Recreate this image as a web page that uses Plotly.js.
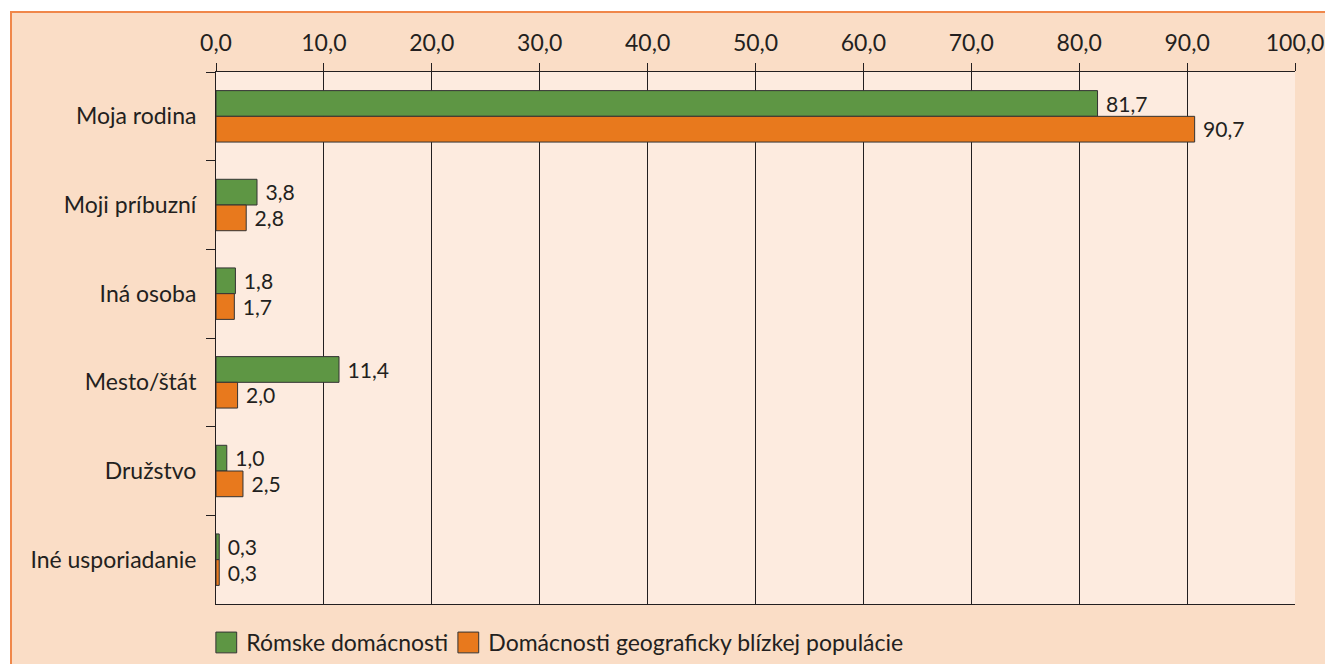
<!DOCTYPE html>
<html>
<head>
<meta charset="utf-8">
<script src="https://cdn.plot.ly/plotly-3.0.1.min.js"></script>
<style>
  html, body { margin: 0; padding: 0; background: #ffffff; }
  #chart { position: absolute; left: 10px; top: 11px; width: 1313px; height: 651px;
           border-left: 2px solid #F0874A; border-top: 2px solid #F0874A; background: #FADDC6; }
</style>
</head>
<body>
<div id="chart"></div>
<script>
const categories = ["Moja rodina", "Moji príbuzní", "Iná osoba", "Mesto/štát", "Družstvo", "Iné usporiadanie"];
const romaValues = [81.7, 3.8, 1.8, 11.4, 1.0, 0.3];
const nearbyValues = [90.7, 2.8, 1.7, 2.0, 2.5, 0.3];
const seriesNames = ["Rómske domácnosti", "Domácnosti geograficky blízkej populácie"];
const seriesColors = ["#5E9644", "#E8791D"];
const xTickValues = [0, 10, 20, 30, 40, 50, 60, 70, 80, 90, 100];

const FONT = "Lato, 'Open Sans', sans-serif";
const FS = 23;
const TXT = "#231F20";

function barTrace(i, values) {
  return {
    type: "bar", orientation: "h", name: seriesNames[i], showlegend: false,
    y: categories, x: values,
    marker: { color: seriesColors[i], line: { color: "#333333", width: 1 } },
    texttemplate: "\u00a0%{x:.1f}", textposition: "outside", cliponaxis: false,
    textfont: { family: FONT, size: FS, color: TXT }
  };
}
function legendTrace(i, legendId) {
  return {
    type: "scatter", mode: "markers", name: seriesNames[i], legend: legendId,
    x: [null], y: [null],
    marker: { symbol: "square", size: 16, color: seriesColors[i], line: { color: "#333333", width: 1 } }
  };
}

const traces = [
  barTrace(0, romaValues), barTrace(1, nearbyValues),
  legendTrace(0, "legend"), legendTrace(1, "legend2")
];

function legendBox(x) {
  return {
    orientation: "h", x: x, xanchor: "left", y: -0.032, yanchor: "top",
    bgcolor: "rgba(0,0,0,0)", font: { family: FONT, size: FS, color: TXT },
    itemwidth: 30
  };
}

const layout = {
  width: 1313, height: 651,
  margin: { l: 204, r: 30, t: 59, b: 60, autoexpand: false },
  paper_bgcolor: "#FADDC6",
  plot_bgcolor: "#FDEBDF",
  separators: ",.",
  barmode: "group",
  bargap: 0.42,
  bargroupgap: 0,
  font: { family: FONT, size: FS, color: TXT },
  showlegend: true,
  legend: legendBox(-0.009),
  legend2: legendBox(0.2153),
  xaxis: {
    side: "top", range: [0, 100], tickvals: xTickValues, tickformat: ".1f",
    showgrid: true, gridcolor: "#231F20", gridwidth: 1,
    showline: true, linecolor: "#231F20", linewidth: 1, mirror: true,
    ticks: "outside", ticklen: 8, tickcolor: "#231F20", tickwidth: 1,
    zeroline: false, fixedrange: true, ticklabelstandoff: 3, automargin: false,
    tickfont: { family: FONT, size: FS, color: TXT }
  },
  yaxis: {
    type: "category", autorange: "reversed",
    showline: true, linecolor: "#231F20", linewidth: 1,
    ticks: "outside", tickson: "boundaries", ticklen: 9, tickcolor: "#231F20", tickwidth: 1,
    showgrid: false, zeroline: false, fixedrange: true, ticklabelstandoff: 14, automargin: false,
    tickfont: { family: FONT, size: FS, color: TXT }
  }
};

Plotly.newPlot("chart", traces, layout, { displayModeBar: false, staticPlot: true }).then(function (gd) {
  // enlarge legend swatches to match the reference's bigger squares
  gd.querySelectorAll(".legendpoints path.scatterpts").forEach(function (p) {
    const t = p.getAttribute("transform") || "";
    p.setAttribute("transform", t + " scale(1.3)");
    p.style.strokeWidth = (1 / 1.3) + "px";
  });
});
</script>
</body>
</html>
